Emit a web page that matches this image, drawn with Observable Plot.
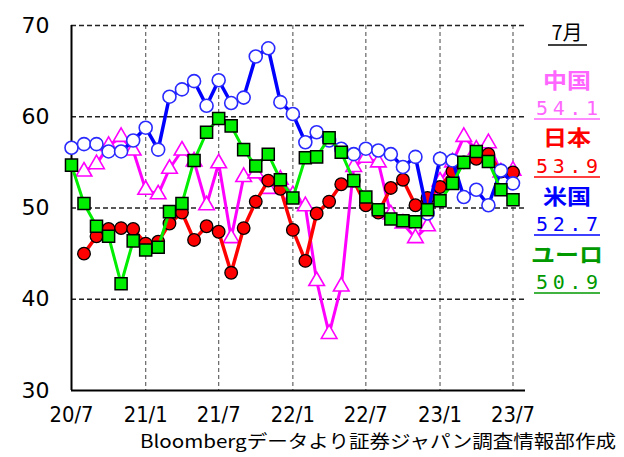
<!DOCTYPE html>
<html><head><meta charset="utf-8">
<script src="https://cdn.jsdelivr.net/npm/d3@7"></script>
<script src="https://cdn.jsdelivr.net/npm/@observablehq/plot@0.6"></script>
<style>body{margin:0;background:#fff}</style>
</head><body><div id="chart"></div>
<script>
// ---- data ----
const tickLabels = ["20/7","21/1","21/7","22/1","22/7","23/1","23/7"];
const yTicks = [30, 40, 50, 60, 70];
const seriesNames = ["中国", "日本", "米国", "ユーロ"];
const china = [null, 54.0, 54.8, 56.8, 57.8, 56.3, 52.0, 51.5, 54.3, 56.3, 55.1, 50.3, 54.9, 46.7, 53.4, 53.8, 52.1, 53.1, 51.4, 50.2, 42.0, 36.2, 41.4, 54.5, 55.5, 55.0, 49.3, 48.3, 46.7, 48.0, 52.9, 55.0, 57.8, 56.4, 57.1, 53.9, 54.1];
const japan = [null, 45.0, 46.9, 47.7, 47.8, 47.7, 46.1, 46.3, 48.3, 49.5, 46.5, 48.0, 47.4, 42.9, 47.8, 50.7, 53.0, 52.1, 47.6, 44.2, 49.4, 50.7, 52.6, 53.0, 50.3, 49.5, 52.2, 53.1, 50.3, 51.1, 52.3, 54.0, 55.0, 55.4, 55.9, 54.0, 53.9];
const usa = [56.6, 57.0, 57.0, 56.2, 56.2, 57.4, 58.8, 56.4, 62.2, 63.0, 63.9, 61.2, 64.0, 61.5, 62.1, 66.6, 67.5, 61.6, 60.3, 57.2, 58.3, 57.4, 56.5, 55.9, 56.5, 56.3, 55.9, 54.5, 55.6, 49.4, 55.4, 55.2, 51.2, 52.0, 50.3, 54.1, 52.7];
const euro = [54.7, 50.5, 48.0, 46.9, 41.7, 46.4, 45.4, 45.7, 49.6, 50.5, 55.2, 58.3, 59.8, 59.0, 56.4, 54.6, 55.9, 53.1, 51.1, 55.5, 55.6, 57.7, 56.1, 53.0, 51.2, 49.8, 48.8, 48.6, 48.5, 49.8, 50.8, 52.7, 55.0, 56.2, 55.1, 52.0, 50.9];
const legendMonth = "7月";
const caption = "Bloombergデータより証券ジャパン調査情報部作成";

// ---- helpers ----
const monthDate = i => new Date(Date.UTC(2020, 6 + i, 1));
const parseTick = s => { const [y, m] = s.split("/").map(Number); return new Date(Date.UTC(2000 + y, m - 1, 1)); };
const tickDates = tickLabels.map(parseTick);
const fmtTick = d => `${String(d.getUTCFullYear()).slice(2)}/${d.getUTCMonth() + 1}`;
const rows = arr => arr.map((v, i) => ({date: monthDate(i), value: v})).filter(d => d.value != null);

const series = [
  {name: seriesNames[0], data: rows(china), line: "#ff00ff", lw: 3, symbol: "triangle", r: 5.8, fill: "#fff", stroke: "#ff00ff", sw: 1.6, text: "#ff66ff"},
  {name: seriesNames[1], data: rows(japan), line: "#ff0000", lw: 3.5, symbol: "circle", r: 6.3, fill: "#ff0000", stroke: "#000", sw: 1.3, text: "#ff0000"},
  {name: seriesNames[2], data: rows(usa), line: "#0000ff", lw: 3.5, symbol: "circle", r: 6.5, fill: "#fff", stroke: "#2a2aff", sw: 1.6, text: "#0000ff"},
  {name: seriesNames[3], data: rows(euro), line: "#00ee00", lw: 3, symbol: "square", r: 6.8, fill: "#00ee00", stroke: "#000", sw: 1.5, text: "#009900"}
];

const marks = [
  Plot.ruleX(tickDates.slice(1), {stroke: "#666", strokeWidth: 1.2, strokeDasharray: "4,3"}),
  Plot.ruleY(yTicks.slice(1), {stroke: "#222", strokeWidth: 1.6, strokeDasharray: "5,3"}),
  Plot.ruleY([yTicks[0]], {stroke: "#000", strokeWidth: 2}),
  Plot.ruleX([tickDates[0]], {stroke: "#000", strokeWidth: 2}),
  Plot.axisY({ticks: yTicks, tickSize: 0, tickPadding: 22, fontSize: 22, label: null}),
  Plot.axisX({ticks: tickDates, tickFormat: fmtTick, tickSize: 0, tickPadding: 16, fontSize: 22, label: null})
];
for (const s of series) {
  marks.push(Plot.line(s.data, {x: "date", y: "value", stroke: s.line, strokeWidth: s.lw}));
  marks.push(Plot.dot(s.data, {x: "date", y: "value", symbol: s.symbol, r: s.r, fill: s.fill, stroke: s.stroke, strokeWidth: s.sw}));
}

const chart = Plot.plot({
  width: 624, height: 457,
  marginLeft: 71, marginRight: 99, marginTop: 25, marginBottom: 67,
  style: {fontFamily: "'DejaVu Sans', sans-serif", background: "#fff", color: "#000", overflow: "visible"},
  x: {type: "utc", domain: [monthDate(0), monthDate(37)]},
  y: {domain: [30, 70]},
  marks
});
document.getElementById("chart").appendChild(chart);

// narrow x tick labels
d3.select(chart).selectAll('[aria-label="x-axis tick label"] text')
  .attr("textLength", 44).attr("lengthAdjust", "spacingAndGlyphs");

const svg = d3.select(chart);
// caption
svg.append("text").attr("x", 616).attr("y", 448).attr("text-anchor", "end")
  .attr("font-family", "'Noto Sans CJK JP', sans-serif").attr("font-size", 18)
  .attr("textLength", 476).attr("lengthAdjust", "spacingAndGlyphs")
  .attr("fill", "#000").text(caption);

// legend
const lx = 567;
svg.append("text").attr("x", lx).attr("y", 40).attr("text-anchor", "middle")
  .attr("font-family", "'Noto Sans CJK JP', sans-serif").attr("font-size", 20).attr("fill", "#000").text(legendMonth);
svg.append("line").attr("x1", 548).attr("x2", 587).attr("y1", 45).attr("y2", 45).attr("stroke", "#000").attr("stroke-width", 1.5);
const nameY = [79, 136, 195, 253];
const valY = [108, 166, 224, 282];
series.forEach((s, k) => {
  const last = s.data[s.data.length - 1].value;
  svg.append("text").attr("x", lx).attr("y", nameY[k] + 9).attr("text-anchor", "middle")
    .attr("font-family", "'Noto Sans CJK JP', sans-serif").attr("font-weight", "bold").attr("font-size", 21)
    .attr("textLength", s.name.length * 24).attr("lengthAdjust", "spacingAndGlyphs")
    .attr("fill", s.text).text(s.name);
  svg.append("text").attr("x", 536).attr("y", valY[k] + 7).attr("text-anchor", "start")
    .attr("font-family", "'DejaVu Sans Mono', monospace").attr("font-size", 20)
    .attr("textLength", 62).attr("lengthAdjust", "spacing")
    .attr("fill", s.text).text(last.toFixed(1));
  svg.append("line").attr("x1", 534).attr("x2", 600).attr("y1", valY[k] + 11).attr("y2", valY[k] + 11)
    .attr("stroke", s.text).attr("stroke-width", 1.5);
});
</script>
</body></html>
